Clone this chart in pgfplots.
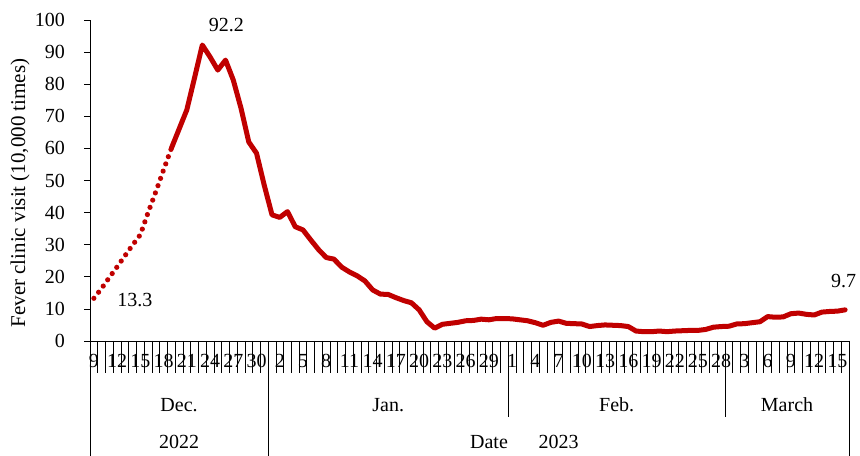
\documentclass[border=0pt]{standalone}
\usepackage{fontspec}
\setmainfont{Liberation Serif}
\usepackage{pgfplots}
\pgfplotsset{compat=1.18}
\definecolor{dred}{RGB}{192,0,0}
\begin{document}
\begin{tikzpicture}[x=1bp,y=1bp]
\useasboundingbox (0,0) rectangle (860,456);
\begin{axis}[
  at={(90bp,115bp)}, anchor=south west,
  scale only axis, width=759bp, height=321bp,
  xmin=-0.5, xmax=97.5, ymin=0, ymax=100,
  axis x line=bottom, axis y line=left,
  axis line style={-, black, line width=0.75bp},
  ytick={0,10,...,100},
  tick align=outside,
  major tick length=6bp,
  ytick style={black, line width=0.75bp},
  xtick={0,3,...,96},
  xticklabels={9,12,15,18,21,24,27,30,2,5,8,11,14,17,20,23,26,29,1,4,7,10,13,16,19,22,25,28,3,6,9,12,15},
  xtick style={draw=none},
  /pgf/number format/assume math mode=true,
  tick label style={font=\fontsize{20bp}{22bp}\selectfont},
  yticklabel style={anchor=east, inner sep=0pt, xshift=-19bp},
  xticklabel style={anchor=base, inner sep=0pt, yshift=-21bp},
  clip=false,
]
\addplot[dred, line width=5.2bp, dash pattern=on 0pt off 7.7bp, line cap=round] coordinates {
(0,13.3)(1,16.4)(2,19.8)(3,23.1)(4,26.5)(5,29.9)(6,33.1)(7,40.0)(8,46.5)(9,53.3)(10,60.0)};
\addplot[dred, line width=5bp, line join=round, line cap=round] coordinates {
(10,60.0)(11,66.0)(12,72.0)(13,82.0)(14,92.2)(15,88.5)(16,84.4)(17,87.5)(18,81.3)(19,72.5)
(20,62.0)(21,58.5)(22,48.5)(23,39.3)(24,38.5)(25,40.3)(26,35.6)(27,34.6)(28,31.5)(29,28.5)
(30,26.0)(31,25.5)(32,23.0)(33,21.5)(34,20.3)(35,18.7)(36,15.9)(37,14.6)(38,14.5)(39,13.5)
(40,12.6)(41,11.9)(42,9.7)(43,6.0)(44,4.0)(45,5.2)(46,5.5)(47,5.8)(48,6.3)(49,6.4)
(50,6.8)(51,6.6)(52,7.0)(53,7.0)(54,6.9)(55,6.6)(56,6.3)(57,5.7)(58,4.9)(59,5.8)
(60,6.2)(61,5.5)(62,5.4)(63,5.3)(64,4.5)(65,4.8)(66,5.0)(67,4.9)(68,4.8)(69,4.5)
(70,3.1)(71,2.9)(72,2.9)(73,3.1)(74,2.9)(75,3.1)(76,3.2)(77,3.3)(78,3.3)(79,3.6)
(80,4.3)(81,4.5)(82,4.6)(83,5.3)(84,5.4)(85,5.7)(86,6.0)(87,7.6)(88,7.4)(89,7.5)
(90,8.5)(91,8.7)(92,8.3)(93,8.1)(94,9.0)(95,9.2)(96,9.3)(97,9.7)};
\node[font=\fontsize{20bp}{22bp}\selectfont] at (axis cs:17.1,98.4) {92.2};
\node[font=\fontsize{20bp}{22bp}\selectfont] at (axis cs:5.3,12.9) {13.3};
\node[font=\fontsize{20bp}{22bp}\selectfont] at (axis cs:96.8,18.7) {9.7};
\end{axis}
\foreach \k in {0,...,98} {\draw[black, line width=0.75bp] ({90+\k*7.7449},115) -- ({90+\k*7.7449},83);}
\foreach \k in {0,23,54,82,98} {\draw[black, line width=0.75bp] ({90+\k*7.7449},83) -- ({90+\k*7.7449},39);}
\foreach \k in {0,23,98} {\draw[black, line width=0.75bp] ({90+\k*7.7449},39) -- ({90+\k*7.7449},0);}
\begin{scope}[every node/.style={font=\fontsize{20bp}{22bp}\selectfont}]
\node at ({90+11.5*7.7449},51) {Dec.};
\node at ({90+38.5*7.7449},51) {Jan.};
\node at ({90+68*7.7449},51) {Feb.};
\node at ({90+90*7.7449},51) {March};
\node at ({90+11.5*7.7449},14) {2022};
\node at ({90+60.5*7.7449},14) {2023};
\node at (489,14) {Date};
\node[rotate=90, font=\fontsize{21bp}{23bp}\selectfont] at (20,263) {Fever clinic visit (10,000 times)};
\end{scope}
\end{tikzpicture}
\end{document}
